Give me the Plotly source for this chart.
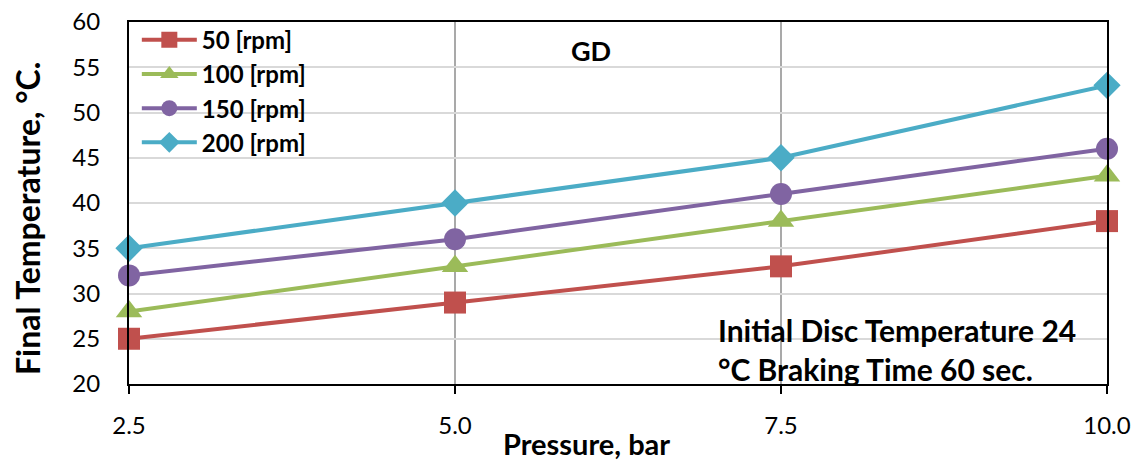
import plotly.graph_objects as go

pressure = [2.5, 5.0, 7.5, 10.0]
series_names = ["50 [rpm]", "100 [rpm]", "150 [rpm]", "200 [rpm]"]
rpm50 = [25, 29, 33, 38]
rpm100 = [28, 33, 38, 43]
rpm150 = [32, 36, 41, 46]
rpm200 = [35, 40, 45, 53]
x_ticks = [2.5, 5.0, 7.5, 10.0]
x_tick_labels = ["2.5", "5.0", "7.5", "10.0"]
y_ticks = [20, 25, 30, 35, 40, 45, 50, 55, 60]

colors = ["#C0504D", "#9BBB59", "#8064A2", "#4BACC6"]
symbols = ["square", "triangle-up", "circle", "diamond"]
sizes = [22, 23, 22, 21]

FONT = "Lato, 'Open Sans', sans-serif"

fig = go.Figure()
for name, ys, c, s, sz in zip(series_names, [rpm50, rpm100, rpm150, rpm200], colors, symbols, sizes):
    fig.add_trace(go.Scatter(
        x=pressure, y=ys, name=name, mode="lines+markers",
        line=dict(color=c, width=4),
        marker=dict(symbol=s, size=sz, color=c),
        cliponaxis=False,
    ))

# vertical grid lines at interior x ticks
for xv in x_ticks[1:-1]:
    fig.add_shape(type="line", xref="x", yref="paper", x0=xv, x1=xv, y0=0, y1=1,
                  line=dict(color="#8C8C8C", width=1.5), layer="below")

fig.add_annotation(text="<b>GD</b>", x=6.04, y=56.9, xref="x", yref="y",
                   showarrow=False, font=dict(family=FONT, size=27, color="black"))
fig.add_annotation(text="<b>Initial Disc Temperature 24<br>°C Braking Time 60 sec.</b>",
                   x=7.0, y=28.15, xref="x", yref="y", xanchor="left", yanchor="top",
                   align="left", showarrow=False,
                   font=dict(family=FONT, size=30, color="black"))
# axis titles
fig.add_annotation(text="<b>Pressure, bar</b>", x=0.4673, y=-0.2165, xref="paper", yref="paper",
                   xanchor="center", yanchor="bottom", showarrow=False, borderpad=0,
                   font=dict(family=FONT, size=29, color="black"))
fig.add_annotation(text="<b>Final Temperature, °C.</b>", x=-0.1033, y=0.4586, xref="paper", yref="paper",
                   xanchor="center", yanchor="middle", textangle=-90, showarrow=False,
                   font=dict(family=FONT, size=32, color="black"))

fig.update_layout(
    width=1139, height=463,
    margin=dict(l=129, r=32, t=22, b=79),
    paper_bgcolor="white", plot_bgcolor="white",
    font=dict(family=FONT, size=24, color="black"),
    showlegend=True,
    legend=dict(x=0.008, y=1.012, xanchor="left", yanchor="top",
                font=dict(family=FONT, size=24, color="black", weight="bold"),
                bgcolor="rgba(0,0,0,0)", itemwidth=55, tracegroupgap=0),
    xaxis=dict(range=[2.5, 10.0], tickvals=x_ticks, ticktext=x_tick_labels,
               showgrid=False, zeroline=False, automargin=False,
               showline=True, linecolor="black", linewidth=2, mirror=True,
               ticks="outside", ticklen=8, tickwidth=1.5, tickcolor="black",
               ticklabelstandoff=11,
               tickfont=dict(family=FONT, size=24)),
    yaxis=dict(range=[20, 60], tickvals=y_ticks,
               showgrid=True, gridcolor="#D9D9D9", gridwidth=2, zeroline=False, automargin=False,
               showline=True, linecolor="black", linewidth=2, mirror=True,
               ticks="", ticklabelstandoff=22,
               tickfont=dict(family=FONT, size=24)),
)

fig.write_html("out.html")
